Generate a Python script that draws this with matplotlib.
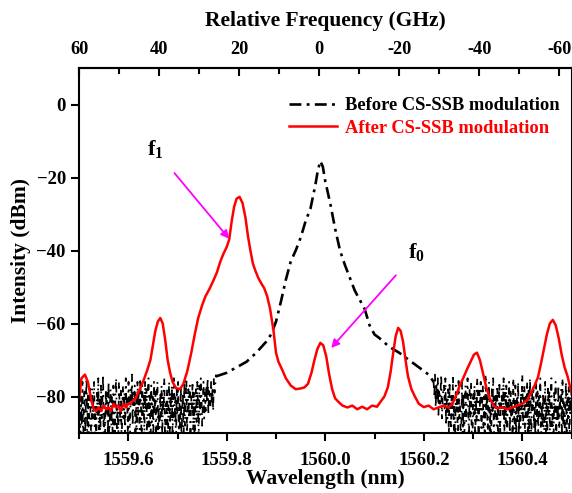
import numpy as np
import matplotlib
matplotlib.use("Agg")
import matplotlib.pyplot as plt
from matplotlib.ticker import MultipleLocator

plt.rcParams['font.family'] = ['Liberation Serif', 'DejaVu Serif']
plt.rcParams['font.weight'] = 'bold'
plt.rcParams['mathtext.fontset'] = 'custom'
plt.rcParams['mathtext.bf'] = 'Liberation Serif:bold'
plt.rcParams['mathtext.rm'] = 'Liberation Serif:bold'

# ---------------- data ----------------
# Before CS-SSB modulation: left noise floor
before_noise_left = [
    -84, -77, -93, -80, -88, -76, -95, -82, -78, -90,
    -81, -75, -91, -79, -94, -83, -77, -87, -92, -78,
    -86, -80, -76, -93, -82, -96, -79, -85, -75, -89,
    -80, -92, -77, -86, -81, -74, -94, -83, -90, -78,
    -85, -79, -91, -76, -95, -82, -78, -88, -80, -93,
    -77, -84, -92, -79, -75, -89, -83, -94, -76, -82,
    -87, -78, -95, -81, -77, -86, -79, -91, -75, -83,
    -80, -90, -76, -84, -93, -78, -82, -74, -88, -79,
    -83, -77, -92, -80, -96, -76, -85, -78, -89, -75,
    -81, -94, -77, -86, -79, -91, -76, -84, -78, -93,
    -82, -75, -90, -79, -95, -77, -87, -80, -92, -76,
    -85, -78, -94, -81, -76, -89, -83, -96, -79, -86,
    -77, -91, -80, -84, -75, -93, -82, -88, -78, -95,
    -83, -76, -90, -79, -86, -77, -92, -81, -75, -87,
    -80, -94, -78, -85, -76, -91, -82, -89, -77, -93,
    -84, -79, -95, -76, -88, -81, -75, -90, -83, -78,
    -86, -77, -92, -80, -84, -76, -89, -79, -94, -82,
    -78, -87, -76, -83, -91, -77, -85, -75, -80, -88,
    -82, -76, -86, -79, -84, -77, -81, -75, -85, -78,
    -80, -83, -76, -82, -78, -84, -75, -79, -77, -74,
]
before_noise_left_start, before_noise_left_end = 1559.50, 1559.778

# Before CS-SSB modulation: smooth carrier part
before_wl = [1559.778, 1559.800, 1559.820, 1559.840, 1559.860, 1559.880, 1559.890,
             1559.900, 1559.910, 1559.920, 1559.930, 1559.940, 1559.950, 1559.960,
             1559.970, 1559.980, 1559.985, 1559.990, 1559.995, 1560.000, 1560.010,
             1560.020, 1560.030, 1560.040, 1560.050, 1560.060, 1560.070, 1560.080,
             1560.090, 1560.100, 1560.110, 1560.130, 1560.150, 1560.170, 1560.190,
             1560.210, 1560.220]
before_db = [-74.5, -73.5, -72.0, -70.5, -68.0, -65.0, -63.0,
             -59.5, -54.0, -48.0, -43.0, -40.0, -36.5, -32.0,
             -28.5, -22.0, -18.0, -15.5, -17.0, -21.0, -27.0,
             -34.0, -40.0, -44.0, -47.5, -51.0, -53.5, -56.0,
             -60.5, -63.0, -64.0, -66.4, -68.0, -70.0, -72.0,
             -74.0, -76.0]

# Before CS-SSB modulation: right noise floor
before_noise_right = [
    -76, -80, -74, -83, -77, -81, -75, -85, -78, -82,
    -79, -74, -86, -81, -78, -77, -84, -75, -88, -80,
    -86, -78, -91, -76, -83, -89, -79, -85, -74, -92,
    -81, -94, -77, -84, -80, -95, -75, -86, -82, -90,
    -88, -76, -93, -79, -96, -83, -77, -87, -81, -75,
    -84, -92, -78, -86, -76, -90, -95, -79, -85, -77,
    -93, -80, -87, -75, -83, -94, -78, -84, -76, -91,
    -82, -77, -89, -80, -95, -74, -85, -79, -92, -81,
    -76, -90, -83, -96, -78, -84, -75, -93, -80, -86,
    -79, -88, -77, -94, -82, -76, -91, -81, -84, -78,
    -85, -75, -92, -79, -88, -77, -95, -80, -83, -76,
    -90, -78, -86, -81, -94, -75, -84, -89, -77, -93,
    -80, -87, -76, -91, -82, -96, -79, -85, -74, -88,
    -83, -77, -94, -80, -86, -76, -92, -78, -90, -75,
    -81, -95, -79, -84, -77, -89, -83, -93, -76, -87,
    -78, -91, -80, -86, -75, -94, -82, -88, -79, -96,
    -84, -76, -90, -81, -93, -77, -85, -78, -92, -80,
    -75, -89, -83, -95, -79, -86, -76, -91, -82, -87,
    -77, -94, -80, -84, -78, -92, -75, -88, -81, -90,
    -83, -76, -93, -79, -86, -77, -95, -80, -85, -78,
]
before_noise_right_start, before_noise_right_end = 1560.22, 1560.50

# After CS-SSB modulation
after_wl = [1559.500, 1559.505, 1559.512, 1559.518, 1559.525, 1559.530, 1559.535, 1559.540,
            1559.545, 1559.550, 1559.555, 1559.560, 1559.565, 1559.570, 1559.575, 1559.580,
            1559.585, 1559.590, 1559.595, 1559.600, 1559.605, 1559.610, 1559.615, 1559.620,
            1559.630, 1559.638, 1559.645, 1559.650, 1559.655, 1559.660, 1559.665, 1559.670,
            1559.675, 1559.680, 1559.685, 1559.690, 1559.697, 1559.705, 1559.712, 1559.720,
            1559.728, 1559.735, 1559.742, 1559.750, 1559.757, 1559.765, 1559.772, 1559.780,
            1559.787, 1559.793, 1559.800, 1559.805, 1559.810, 1559.815, 1559.820, 1559.826,
            1559.832, 1559.838, 1559.843, 1559.848, 1559.853, 1559.858, 1559.864, 1559.870,
            1559.876, 1559.882, 1559.888, 1559.895, 1559.900, 1559.905, 1559.912, 1559.920,
            1559.930, 1559.940, 1559.950, 1559.958, 1559.965, 1559.972, 1559.978, 1559.984,
            1559.990, 1559.996, 1560.002, 1560.008, 1560.014, 1560.020, 1560.027, 1560.035,
            1560.045, 1560.055, 1560.065, 1560.075, 1560.085, 1560.095, 1560.105, 1560.112,
            1560.120, 1560.127, 1560.133, 1560.138, 1560.143, 1560.148, 1560.153, 1560.158,
            1560.163, 1560.168, 1560.175, 1560.182, 1560.190, 1560.200, 1560.210, 1560.220,
            1560.230, 1560.240, 1560.250, 1560.258, 1560.265, 1560.272, 1560.280, 1560.288,
            1560.295, 1560.302, 1560.308, 1560.314, 1560.320, 1560.327, 1560.334, 1560.342,
            1560.350, 1560.360, 1560.370, 1560.380, 1560.390, 1560.400, 1560.410, 1560.418,
            1560.425, 1560.432, 1560.438, 1560.444, 1560.450, 1560.456, 1560.462, 1560.468,
            1560.474, 1560.480, 1560.486, 1560.492, 1560.500]
after_db = [-81.0, -75.0, -74.0, -76.0, -81.0, -83.5, -84.0, -83.0,
            -84.0, -82.5, -83.5, -83.0, -84.0, -82.0, -83.0, -82.5,
            -84.0, -82.0, -83.0, -82.0, -82.0, -81.0, -80.5, -79.0,
            -76.0, -73.0, -70.0, -66.0, -62.0, -59.5, -58.5, -60.0,
            -64.5, -70.0, -73.5, -76.0, -77.7, -78.0, -76.5, -73.0,
            -68.0, -63.0, -58.5, -55.0, -52.5, -50.5, -48.5, -46.0,
            -43.0, -41.0, -39.0, -37.0, -32.0, -28.0, -25.8, -25.3,
            -27.0, -31.0, -36.0, -40.0, -43.5, -45.5, -47.5, -49.0,
            -50.3, -52.5, -56.0, -62.0, -68.0, -70.5, -72.5, -75.0,
            -77.0, -78.0, -77.8, -77.5, -76.5, -73.5, -70.0, -67.0,
            -65.3, -66.0, -69.0, -74.0, -78.0, -80.5, -81.5, -82.5,
            -83.0, -82.5, -83.5, -82.8, -83.5, -82.5, -82.8, -81.5,
            -80.0, -77.5, -73.0, -68.0, -63.5, -61.2, -62.0, -65.0,
            -70.0, -74.5, -78.0, -80.0, -82.0, -82.9, -82.5, -83.5,
            -83.0, -82.5, -83.0, -82.0, -80.0, -77.4, -75.0, -72.5,
            -70.5, -68.5, -68.0, -70.0, -73.5, -77.5, -80.5, -82.5,
            -83.2, -83.0, -83.5, -83.0, -82.5, -82.0, -81.0, -79.0,
            -77.0, -74.7, -71.0, -67.0, -63.0, -60.0, -59.0, -60.5,
            -64.0, -68.5, -72.0, -74.5, -79.0]

x_ticks = [1559.6, 1559.8, 1560.0, 1560.2, 1560.4]
y_ticks = [0, -20, -40, -60, -80]
top_ticks = [60, 40, 20, 0, -20, -40, -60]
lambda0, nm_per_ghz = 1559.988, 0.00812

# ---------------- figure ----------------
fig = plt.figure(figsize=(5.72, 4.93), dpi=100)
ax = fig.add_axes([79 / 572, 1 - 433 / 493, 492.5 / 572, 365 / 493])

wl_left = np.linspace(before_noise_left_start, before_noise_left_end, len(before_noise_left))
wl_right = np.linspace(before_noise_right_start, before_noise_right_end, len(before_noise_right))

noise_style = dict(color='black', lw=1.25, linestyle=(0, (3.5, 3.0, 1.0, 3.0)))
ax.plot(wl_left, before_noise_left, **noise_style)
ax.plot(wl_right, before_noise_right, **noise_style)
l1, = ax.plot(before_wl, before_db, color='black', lw=1.9, linestyle=(0, (4.5, 2.0, 1.1, 2.0)),
              label='Before CS-SSB modulation')
l2, = ax.plot(after_wl, after_db, color='#ff0000', lw=1.8, label='After CS-SSB modulation')

ax.set_xlim(1559.5, 1560.5)
ax.set_ylim(-90, 10)
ax.set_xticks(x_ticks)
ax.set_xticklabels([f"{v:.1f}" for v in x_ticks])
ax.xaxis.set_minor_locator(MultipleLocator(0.1))
ax.set_yticks(y_ticks)
ax.tick_params(axis='both', which='major', labelsize=13.5, width=1.5, length=6, direction='out')
ax.tick_params(axis='x', which='major', pad=8)
ax.tick_params(axis='x', which='minor', width=1.5, length=4, direction='out')
ax.tick_params(axis='x', top=False)
for s in ax.spines.values():
    s.set_linewidth(1.5)

ax.set_xlabel('Wavelength (nm)', fontsize=15.5, fontweight='bold', labelpad=0)
ax.set_ylabel('Intensity (dBm)', fontsize=15.5, fontweight='bold', labelpad=4)

sec = ax.secondary_xaxis('top', functions=(lambda w: (lambda0 - w) / nm_per_ghz,
                                           lambda f: lambda0 - nm_per_ghz * f))
sec.set_xticks(top_ticks)
sec.set_xticklabels([str(v) for v in top_ticks])
sec.xaxis.set_minor_locator(MultipleLocator(10))
sec.tick_params(axis='x', which='major', labelsize=13.2, width=1.5, length=6, direction='in', pad=7)
sec.tick_params(axis='x', which='minor', width=1.5, length=4, direction='in')
sec.spines['top'].set_linewidth(1.5)
sec.set_xlabel('Relative Frequency (GHz)', fontsize=15.5, fontweight='bold', labelpad=11)

leg = ax.legend(handles=[l1, l2], loc='upper left', bbox_to_anchor=(0.412, 0.94),
                frameon=False, fontsize=13.3, handlelength=2.6, handletextpad=0.4,
                labelspacing=0.3, borderaxespad=0)
leg.get_texts()[0].set_color('black')
leg.get_texts()[1].set_color('#ff0000')
for t in leg.get_texts():
    t.set_fontweight('bold')

ax.annotate(r'$\mathbf{f}_\mathbf{1}$', xy=(1559.805, -36.8), xytext=(1559.655, -12.5),
            fontsize=16, ha='center', va='center',
            arrowprops=dict(arrowstyle='-|>', color='#ff00ff', lw=1.3,
                            shrinkA=9, shrinkB=0, mutation_scale=12))
ax.annotate(r'$\mathbf{f}_\mathbf{0}$', xy=(1560.012, -66.7), xytext=(1560.185, -40.5),
            fontsize=16, ha='center', va='center',
            arrowprops=dict(arrowstyle='-|>', color='#ff00ff', lw=1.3,
                            shrinkA=10, shrinkB=0, mutation_scale=12))

fig.savefig('out.png', dpi=100)
